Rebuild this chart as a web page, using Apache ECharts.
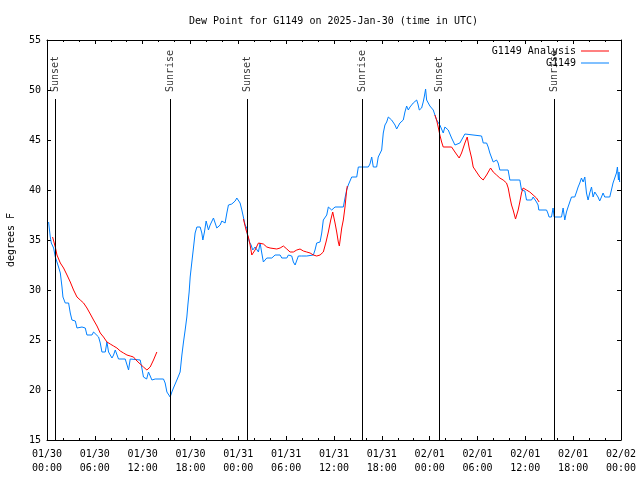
<!DOCTYPE html>
<html><head><meta charset="utf-8">
<script src="https://cdn.jsdelivr.net/npm/echarts@6/dist/echarts.min.js"></script>
<style>html,body{margin:0;padding:0;background:#fff}#c{width:640px;height:480px}</style>
</head><body><div id="c"></div>
<script>
var titleText = 'Dew Point for G1149 on 2025-Jan-30 (time in UTC)';
var tickLabels = ['01/30\n00:00','01/30\n06:00','01/30\n12:00','01/30\n18:00','01/31\n00:00','01/31\n06:00','01/31\n12:00','01/31\n18:00','02/01\n00:00','02/01\n06:00','02/01\n12:00','02/01\n18:00','02/02\n00:00'];
var sunHours = [1.08, 15.45, 25.14, 39.55, 49.2, 63.61];
var sunLabels = ['Sunset','Sunrise','Sunset','Sunrise','Sunset','Sunrise'];

// hours since 2025-01-30 00:00 UTC
var obsHours = [0.2,0.41,0.54,0.83,1.04,1.25,1.45,1.67,1.88,2.0,2.29,2.51,2.71,2.92,3.13,3.55,3.76,4.39,4.59,4.8,5.01,5.64,5.84,6.05,6.47,6.68,6.89,7.31,7.52,7.72,7.93,8.15,8.35,8.56,8.77,8.97,9.81,10.03,10.23,10.44,11.69,11.9,12.1,12.3,12.5,12.73,12.94,13.16,13.36,13.57,14.61,14.82,15.04,15.24,15.45,15.66,15.86,16.08,16.29,16.49,16.7,16.92,17.12,17.33,17.54,17.67,17.83,17.96,18.17,18.37,18.58,18.8,19.0,19.21,19.42,19.55,19.75,19.96,20.25,20.46,20.68,20.88,21.09,21.3,21.5,21.72,21.93,22.13,22.34,22.56,22.76,22.97,23.18,23.38,23.6,23.81,24.01,24.22,24.44,24.64,24.85,25.06,25.14,25.39,25.6,25.81,26.1,26.32,26.52,26.73,26.94,27.14,27.36,27.57,28.2,28.4,28.61,29.24,29.45,30.08,30.28,30.7,30.9,31.12,31.33,31.53,31.74,31.95,32.58,32.78,33.41,33.62,33.83,34.25,34.46,34.66,34.87,35.09,35.29,35.5,35.71,35.92,36.13,37.17,37.38,37.59,37.79,38.0,38.22,38.85,39.05,39.26,39.47,40.3,40.51,40.73,40.93,41.35,41.55,41.77,41.98,42.18,42.39,42.61,42.81,43.02,43.23,43.43,43.65,43.86,44.06,44.27,44.49,44.69,44.9,45.11,45.32,45.53,45.74,45.94,46.15,46.37,46.53,46.7,46.99,47.19,47.32,47.49,47.62,47.82,48.03,48.25,48.45,48.66,48.87,49.07,49.28,49.5,49.7,49.91,50.13,50.33,50.54,50.75,50.95,51.17,51.38,51.79,52.0,52.2,52.42,52.63,54.51,54.72,54.93,55.14,55.34,55.55,55.76,55.97,56.18,56.39,56.59,56.8,57.84,58.06,59.31,59.52,59.94,60.15,60.78,60.98,61.19,61.4,61.6,61.69,62.66,62.82,62.98,63.28,63.48,63.61,64.54,64.74,64.82,64.95,65.16,65.36,65.58,65.79,65.99,66.2,66.42,66.62,66.83,67.04,67.25,67.46,67.67,67.87,68.08,68.3,68.5,68.71,68.92,69.12,69.33,69.55,69.75,69.96,70.18,70.59,70.8,71.0,71.22,71.43,71.55,71.68,71.75,71.83];
var obsDew = [36.8,35.3,34.7,34.2,33.3,32.8,32.3,31.7,30.3,29.3,28.7,28.5,28.7,27.7,27.0,26.9,26.2,26.3,26.5,26.2,25.5,25.5,25.8,25.7,25.3,24.7,23.8,23.8,24.8,23.8,23.7,23.2,23.5,24.0,23.8,23.1,23.1,23.0,22.0,23.1,23.0,22.2,21.3,21.1,21.1,21.8,21.6,21.0,20.8,21.1,21.1,20.7,19.8,19.7,19.3,19.8,20.2,20.2,21.0,21.1,21.8,23.5,24.8,26.0,27.3,28.5,29.8,31.3,32.8,34.2,35.7,36.3,36.4,36.3,35.7,35.0,35.8,36.9,36.0,36.5,36.7,37.2,37.3,36.2,36.2,36.5,36.9,36.8,36.7,37.7,38.5,38.7,38.6,38.7,38.9,39.2,39.0,38.7,38.0,37.8,36.5,36.2,35.5,34.8,34.5,34.0,34.3,34.3,33.8,34.7,33.7,32.8,33.0,33.2,33.2,33.4,33.5,33.5,33.2,33.2,33.5,33.4,32.8,32.5,32.5,33.4,33.2,33.4,33.4,33.5,33.5,34.0,34.7,34.8,35.7,37.0,37.2,37.5,38.3,38.3,38.0,38.2,38.3,38.3,39.2,40.0,40.5,40.7,41.3,41.3,42.3,42.5,42.3,42.3,42.6,43.3,42.3,42.3,43.3,43.3,44.0,45.7,46.5,46.8,47.3,47.2,47.0,47.1,46.5,46.1,46.3,46.7,46.8,47.0,47.8,48.4,48.0,48.3,48.5,48.7,48.8,49.0,48.6,48.0,48.2,48.8,49.3,50.1,49.0,49.2,48.4,48.3,48.0,47.5,47.0,46.8,46.5,46.6,45.7,46.3,46.2,46.0,45.8,45.2,45.0,44.5,44.7,44.7,45.0,45.2,45.6,45.4,45.4,44.7,44.5,44.7,44.3,43.7,43.5,42.8,42.8,43.0,42.7,42.0,42.0,41.0,41.0,40.0,39.9,39.0,39.0,39.3,39.2,38.8,38.5,38.0,38.0,37.7,37.3,37.3,38.2,37.3,37.3,38.2,38.0,37.0,37.8,38.3,38.3,39.3,39.1,39.3,39.8,40.3,40.7,41.2,40.8,41.3,39.7,39.0,39.7,40.3,39.3,39.8,39.7,39.3,38.9,39.3,39.7,39.3,39.2,39.3,40.0,40.7,40.7,41.7,42.3,41.0,41.8,40.8];

// analysis (null = gap between runs)
var anaHours = [0.7,1.04,1.25,1.67,2.08,2.51,2.92,3.33,3.76,4.17,4.59,5.01,5.43,5.84,6.27,6.68,7.09,7.52,7.93,8.35,8.77,9.19,9.6,10.03,10.44,10.85,11.28,11.69,12.1,12.53,12.73,12.94,13.36,13.78,
  18,
  24.64,24.85,24.97,25.26,25.48,25.69,25.89,26.1,26.52,26.73,27.14,27.57,27.98,28.82,29.24,29.65,30.08,30.49,30.9,31.33,31.74,32.16,32.58,33.0,33.41,33.83,34.25,34.66,34.87,35.0,35.29,35.59,35.84,36.13,36.34,36.54,36.67,36.97,37.17,37.38,37.59,37.67,
  42,
  48.66,48.87,49.07,49.28,49.5,49.7,50.75,51.17,51.7,52.0,52.42,52.71,52.96,53.26,53.46,53.88,54.3,54.71,55.14,55.64,55.97,56.39,56.8,57.22,57.64,57.85,58.06,58.27,58.47,58.77,59.1,59.31,59.52,59.72,60.15,60.56,60.98,61.4,61.73];
var anaDew = [35.3,34.3,33.5,32.7,32.2,31.5,30.8,30.0,29.3,29.0,28.7,28.2,27.6,27.0,26.4,25.7,25.3,24.8,24.6,24.4,24.2,23.9,23.7,23.5,23.4,23.3,22.9,22.6,22.3,22.0,21.9,22.3,23.0,23.8,
  null,
  37.1,36.9,36.0,35.3,34.5,33.5,33.7,34.0,34.7,34.9,34.6,34.3,34.2,34.1,34.2,34.4,34.1,33.8,33.8,34.0,34.1,33.9,33.8,33.7,33.5,33.4,33.5,33.8,34.0,34.8,35.8,37.0,37.8,36.7,35.8,34.8,34.4,36.2,37.0,38.3,40.0,40.4,
  null,
  47.5,47.0,46.3,45.5,44.8,44.3,44.3,43.8,43.2,43.7,44.7,45.3,44.2,43.2,42.3,41.8,41.3,41.0,41.5,42.2,41.8,41.5,41.2,41.0,40.7,40.2,39.3,38.5,38.0,37.1,38.0,38.8,39.7,40.2,40.0,39.8,39.5,39.2,38.8];

var FONT = 'DejaVu Sans Mono';
function pairs(xs, ys){ return xs.map(function(x,i){ return [x, ys[i] === null ? '-' : ys[i]]; }); }

var sunPoints = sunHours.map(function(h,i){ return {value:[h, 49.8], name: sunLabels[i]}; });
var sunLines = sunHours.map(function(h){ return [{coord:[h,15]},{coord:[h,49.1]}]; });

var axisLineStyle = {color:'#000', width:1};
var chart = echarts.init(document.getElementById('c'), null, {renderer:'canvas'});
chart.setOption({
  animation: false,
  backgroundColor: '#fff',
  textStyle: {fontFamily: FONT},
  title: {text: titleText, left: 184, top: 11, textStyle:{fontFamily:FONT, fontSize:10, fontWeight:'normal', color:'#000'}},
  legend: {
    orient:'vertical', right: 26, top: 40, align:'right', itemWidth: 28, itemHeight: 1, itemGap: 0,
    data:[{name:'G1149 Analysis', icon:'rect'},{name:'G1149', icon:'rect'}],
    textStyle:{fontFamily:FONT, fontSize:10, color:'#000', lineHeight:12}
  },
  grid: {left: 47, right: 19, top: 40, bottom: 40, containLabel:false, outerBoundsMode:'none'},
  xAxis: [
    {type:'value', min:0, max:72, interval:6, position:'bottom',
     axisLine:{onZero:false, lineStyle:axisLineStyle},
     axisTick:{inside:true, length:4, lineStyle:axisLineStyle},
     minorTick:{show:true, splitNumber:3, length:2, lineStyle:axisLineStyle},
     splitLine:{show:false},
     axisLabel:{fontFamily:FONT, fontSize:10, color:'#000', margin:7, lineHeight:14,
       formatter:function(v){ return tickLabels[Math.round(v/6)]; }}},
    {type:'value', min:0, max:72, interval:6, position:'top',
     axisLine:{onZero:false, lineStyle:axisLineStyle},
     axisTick:{inside:true, length:4, lineStyle:axisLineStyle},
     minorTick:{show:true, splitNumber:3, length:2, lineStyle:axisLineStyle},
     splitLine:{show:false}, axisLabel:{show:false}}
  ],
  yAxis: [
    {type:'value', min:15, max:55, interval:5, position:'left',
     name:'degrees F', nameLocation:'middle', nameGap:31, nameRotate:90,
     nameTextStyle:{fontFamily:FONT, fontSize:10, color:'#000'},
     axisLine:{onZero:false, lineStyle:axisLineStyle},
     axisTick:{inside:true, length:4, lineStyle:axisLineStyle},
     splitLine:{show:false},
     axisLabel:{fontFamily:FONT, fontSize:10, color:'#000', margin:6}},
    {type:'value', min:15, max:55, interval:5, position:'right',
     axisLine:{onZero:false, lineStyle:axisLineStyle},
     axisTick:{inside:true, length:4, lineStyle:axisLineStyle},
     splitLine:{show:false}, axisLabel:{show:false}}
  ],
  series: [
    {name:'G1149', type:'line', data: pairs(obsHours, obsDew), symbol:'none', showSymbol:false,
     lineStyle:{color:'#0080ff', width:1}, itemStyle:{color:'#0080ff'}, z:3},
    {name:'G1149 Analysis', type:'line', data: pairs(anaHours, anaDew), symbol:'none', showSymbol:false,
     connectNulls:false, lineStyle:{color:'#ff0000', width:1}, itemStyle:{color:'#ff0000'}, z:4},
    {name:'sun', type:'scatter', data: sunPoints, symbolSize:1, itemStyle:{color:'rgba(0,0,0,0)'}, silent:true, z:5,
     label:{show:true, position:'inside', align:'left', verticalAlign:'middle', rotate:90,
       formatter:function(p){ return p.name; }, fontFamily:FONT, fontSize:10, color:'#000'},
     markLine:{silent:true, symbol:['none','none'], label:{show:false},
       lineStyle:{color:'#000', width:1, type:'solid'}, data: sunLines}}
  ]
});
</script></body></html>
